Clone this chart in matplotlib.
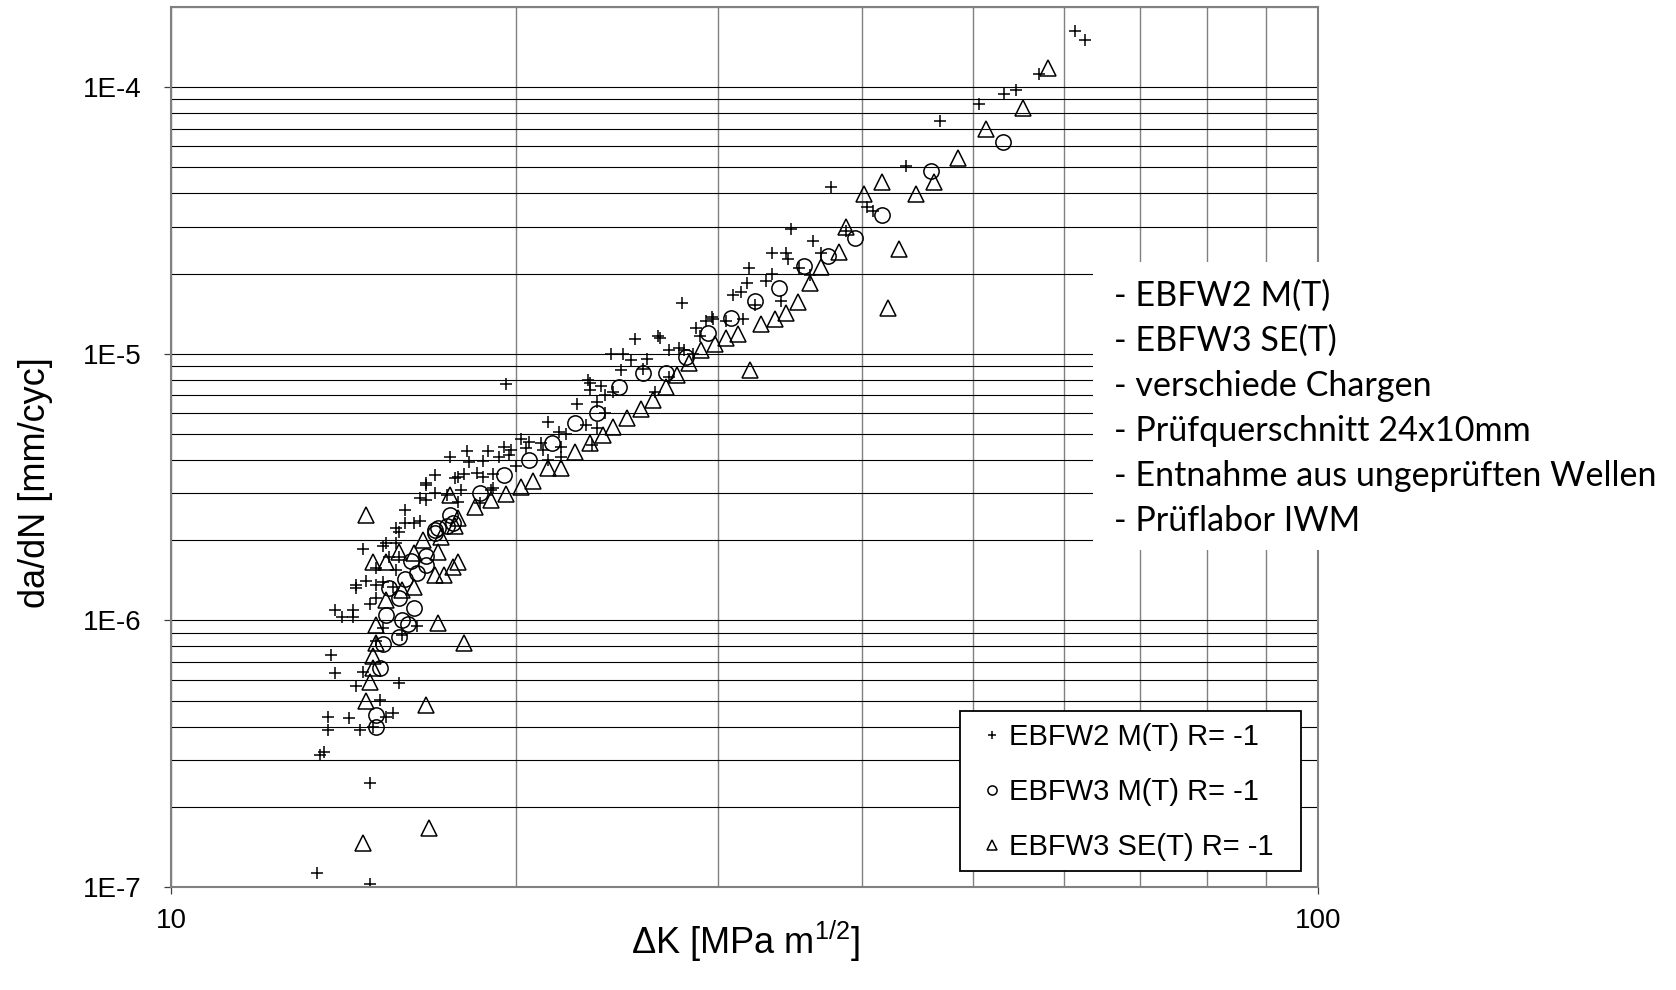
import matplotlib
matplotlib.use("Agg")
import matplotlib.pyplot as plt
from matplotlib.ticker import FixedLocator, FixedFormatter, LogLocator, NullFormatter
from matplotlib.patches import Rectangle

plt.rcParams['font.family'] = ['Liberation Sans', 'DejaVu Sans']
plt.rcParams['mathtext.fontset'] = 'custom'
plt.rcParams['mathtext.rm'] = 'Liberation Sans'

# EBFW2 M(T) R=-1  (plus)
dk_m2 = [61.4, 62.7, 57.1, 53.2, 54.5, 50.6, 46.8, 43.7, 40.4, 40.9, 38.8, 37.6, 34.7,
         36.3, 33.4, 34.4, 34.5, 36.9, 35.3, 36.1, 31.9, 33.4, 31.8, 33.0, 34.0, 31.4,
         30.9, 32.3, 27.9, 29.6, 29.7, 29.3, 31.5, 30.5, 28.7, 28.9, 26.6, 26.7, 25.4,
         27.2, 27.7, 28.0, 28.5, 24.2, 24.8, 25.2, 26.0, 25.8, 24.7, 27.2, 26.4, 19.6,
         23.1, 23.2, 23.7, 23.2, 23.9, 24.3, 22.6, 23.5, 23.9, 23.5, 21.3, 23.0, 21.8,
         22.1, 23.3, 21.9, 21.9, 21.3, 20.2, 20.5, 21.0, 20.4, 19.8, 19.5, 18.9, 19.3,
         19.7, 20.0, 21.1, 19.1, 18.7, 18.7, 19.1, 19.0, 18.6, 18.1, 17.5, 18.2, 18.5,
         18.0, 17.8, 17.7, 17.0, 16.7, 16.7, 16.5, 16.7, 17.0, 17.4, 17.9, 17.8, 16.0,
         15.7, 15.8, 16.0, 16.3, 16.5, 15.4, 15.7, 15.3, 14.7, 15.5, 15.8, 15.1, 15.7,
         15.6, 14.8, 14.5, 14.5, 15.1, 15.3, 14.9, 15.1, 13.9, 14.4, 14.1, 14.4, 16.4,
         15.3, 15.9, 15.1, 13.8, 13.9, 14.7, 14.5, 15.8, 15.2, 15.4, 15.6, 13.7, 14.3,
         13.7, 14.6, 15.0, 13.5, 13.6, 14.9, 13.4, 14.9]
dadn_m2 = [1.63e-4, 1.50e-4, 1.12e-4, 9.46e-5, 9.8e-5, 8.68e-5, 7.5e-5, 5.08e-5, 3.54e-5,
           3.42e-5, 2.90e-5, 4.24e-5, 2.93e-5, 2.64e-5, 2.38e-5, 2.38e-5, 2.26e-5, 2.38e-5,
           2.09e-5, 1.97e-5, 2.09e-5, 2.00e-5, 1.85e-5, 1.87e-5, 1.58e-5, 1.71e-5, 1.66e-5,
           1.52e-5, 1.55e-5, 1.37e-5, 1.35e-5, 1.33e-5, 1.35e-5, 1.33e-5, 1.25e-5, 1.17e-5,
           1.17e-5, 1.15e-5, 1.14e-5, 1.03e-5, 1.05e-5, 1.03e-5, 1.00e-5, 1.00e-5, 1.00e-5,
           9.45e-6, 9.6e-6, 8.8e-6, 8.67e-6, 8.2e-6, 7.2e-6, 7.7e-6, 7.95e-6, 7.8e-6,
           7.55e-6, 7.3e-6, 6.98e-6, 7.2e-6, 6.5e-6, 6.6e-6, 5.98e-6, 5.25e-6, 5.53e-6,
           5.39e-6, 5.07e-6, 5.0e-6, 4.55e-6, 4.46e-6, 4.09e-6, 3.98e-6, 4.78e-6, 4.66e-6,
           4.62e-6, 4.42e-6, 4.35e-6, 4.46e-6, 4.31e-6, 4.09e-6, 4.16e-6, 3.78e-6, 4.35e-6,
           3.53e-6, 3.44e-6, 3.95e-6, 3.13e-6, 3.08e-6, 2.75e-6, 4.31e-6, 4.09e-6, 3.92e-6,
           3.56e-6, 3.53e-6, 3.46e-6, 3.42e-6, 3.50e-6, 3.27e-6, 3.21e-6, 2.87e-6, 2.82e-6,
           3.00e-6, 2.95e-6, 3.08e-6, 2.77e-6, 2.59e-6, 2.22e-6, 2.14e-6, 2.31e-6, 2.31e-6,
           2.37e-6, 1.96e-6, 1.96e-6, 1.90e-6, 1.85e-6, 1.73e-6, 1.73e-6, 1.57e-6, 1.54e-6,
           1.33e-6, 1.41e-6, 1.36e-6, 1.32e-6, 1.36e-6, 1.39e-6, 1.15e-6, 1.21e-6, 1.09e-6,
           1.09e-6, 1.03e-6, 1.03e-6, 9.5e-7, 9.4e-7, 8.8e-7, 8.36e-7, 7.4e-7, 6.34e-7,
           6.4e-7, 5.67e-7, 5.8e-7, 5.02e-7, 4.34e-7, 4.48e-7, 4.34e-7, 4.3e-7, 3.87e-7,
           3.87e-7, 3.98e-7, 3.13e-7, 3.2e-7, 2.45e-7, 1.13e-7, 1.03e-7]

# EBFW3 M(T) R=-1  (circle)
dk_m3 = [53.1, 46.0, 41.7, 39.5, 37.4, 35.6, 33.9, 32.3, 30.8, 29.4, 28.1, 25.8, 27.0,
         24.6, 23.5, 22.5, 21.5, 20.5, 19.5, 18.6, 17.5, 17.4, 17.6, 17.1, 17.0, 17.0,
         16.7, 16.2, 16.7, 16.4, 16.0, 15.8, 15.5, 16.3, 15.4, 15.9, 16.1, 15.8, 15.3,
         15.2, 15.1, 15.1]
dadn_m3 = [6.25e-5, 4.87e-5, 3.33e-5, 2.73e-5, 2.32e-5, 2.14e-5, 1.76e-5, 1.58e-5, 1.36e-5,
           1.20e-5, 9.7e-6, 8.5e-6, 8.5e-6, 7.5e-6, 5.98e-6, 5.48e-6, 4.62e-6, 3.98e-6,
           3.50e-6, 3.00e-6, 2.48e-6, 2.27e-6, 2.31e-6, 2.22e-6, 2.18e-6, 2.12e-6, 1.75e-6,
           1.67e-6, 1.61e-6, 1.50e-6, 1.43e-6, 1.21e-6, 1.32e-6, 1.11e-6, 1.05e-6, 1.00e-6,
           9.7e-7, 8.65e-7, 8.15e-7, 6.62e-7, 4.41e-7, 3.98e-7]

# EBFW3 SE(T) R=-1  (triangle)
dk_se3 = [58.2, 55.3, 51.4, 48.5, 46.3, 41.7, 40.2, 44.6, 38.8, 38.2, 43.1, 42.2, 36.9,
          36.1, 35.2, 34.4, 33.6, 32.7, 31.2, 30.5, 29.8, 29.0, 28.3, 27.6, 27.0, 26.3,
          25.7, 32.0, 25.0, 24.3, 23.8, 23.2, 22.5, 21.3, 21.9, 20.7, 20.2, 19.6, 19.0,
          17.5, 18.4, 17.8, 17.7, 17.2, 16.6, 15.8, 16.3, 17.1, 15.0, 15.4, 17.8, 17.0,
          17.3, 17.6, 16.3, 15.9, 15.4, 17.1, 15.1, 18.0, 15.1, 15.0, 15.0, 14.9, 14.8,
          16.7, 16.8, 14.7, 14.8]
dadn_se3 = [1.18e-4, 8.38e-5, 7.0e-5, 5.45e-5, 4.43e-5, 4.43e-5, 3.96e-5, 3.96e-5, 2.98e-5,
            2.42e-5, 2.48e-5, 1.49e-5, 2.11e-5, 1.85e-5, 1.56e-5, 1.42e-5, 1.35e-5, 1.29e-5,
            1.19e-5, 1.15e-5, 1.09e-5, 1.03e-5, 9.2e-6, 8.3e-6, 7.5e-6, 6.7e-6, 6.2e-6,
            8.7e-6, 5.73e-6, 5.3e-6, 4.95e-6, 4.62e-6, 4.27e-6, 3.72e-6, 3.72e-6, 3.32e-6,
            3.16e-6, 2.97e-6, 2.82e-6, 2.95e-6, 2.66e-6, 2.42e-6, 2.27e-6, 2.05e-6, 2.00e-6,
            1.80e-6, 1.79e-6, 1.80e-6, 1.65e-6, 1.65e-6, 1.65e-6, 1.48e-6, 1.48e-6, 1.58e-6,
            1.33e-6, 1.30e-6, 1.19e-6, 9.8e-7, 9.6e-7, 8.2e-7, 8.2e-7, 7.35e-7, 6.62e-7,
            5.87e-7, 4.98e-7, 4.81e-7, 1.66e-7, 1.46e-7, 2.48e-6]

series_labels = ["EBFW2 M(T) R= -1", "EBFW3 M(T) R= -1", "EBFW3 SE(T) R= -1"]
note_lines = ["- EBFW2 M(T)", "- EBFW3 SE(T)", "- verschiede Chargen",
              "- Prüfquerschnitt 24x10mm", "- Entnahme aus ungeprüften Wellen",
              "- Prüflabor IWM"]
y_ticks = [1e-7, 1e-6, 1e-5, 1e-4]
y_ticklabels = ["1E-7", "1E-6", "1E-5", "1E-4"]
x_ticks = [10, 100]
x_ticklabels = ["10", "100"]

W, H = 1676, 990
fig = plt.figure(figsize=(W / 100, H / 100), dpi=100)
ax = fig.add_axes([171 / W, 103 / H, 1147 / W, 880 / H])
ax.set_xscale('log')
ax.set_yscale('log')
ax.set_xlim(10, 100)
ax.set_ylim(1e-7, 2e-4)

# grid: horizontal black, vertical grey
ax.set_axisbelow(True)
ax.yaxis.set_minor_locator(LogLocator(base=10, subs=range(2, 10)))
ax.xaxis.set_minor_locator(LogLocator(base=10, subs=range(2, 10)))
ax.yaxis.set_minor_formatter(NullFormatter())
ax.xaxis.set_minor_formatter(NullFormatter())
ax.grid(True, which='both', axis='y', color='black', lw=0.8)
ax.grid(True, which='both', axis='x', color='#808080', lw=1.0)

ax.yaxis.set_major_locator(FixedLocator(y_ticks))
ax.yaxis.set_major_formatter(FixedFormatter(y_ticklabels))
ax.xaxis.set_major_locator(FixedLocator(x_ticks))
ax.xaxis.set_major_formatter(FixedFormatter(x_ticklabels))
ax.tick_params(which='minor', length=0)
ax.tick_params(which='major', length=5, width=0.9, color='#404040', labelsize=20)
ax.tick_params(axis='y', pad=16)
ax.tick_params(axis='x', pad=10)

for sp in ax.spines.values():
    sp.set_color('#808080')
    sp.set_linewidth(1.5)

ms_kw = dict(linestyle='none', color='black', mew=1.1)
ax.plot(dk_m2, dadn_m2, marker='+', ms=9, label=series_labels[0], **ms_kw)
ax.plot(dk_m3, dadn_m3, marker='o', ms=11, mfc='none', label=series_labels[1], **ms_kw)
ax.plot(dk_se3, dadn_se3, marker='^', ms=11, mfc='none', label=series_labels[2], **ms_kw)

# white box behind the notes hides the grid
ax.add_patch(Rectangle(((1093 - 171) / 1147, (887 - 550) / 880), 0.25, 288 / 880,
                       transform=ax.transAxes, facecolor='white', edgecolor='none',
                       zorder=3, clip_on=False))
for i, line in enumerate(note_lines):
    fig.text(1114 / W, 1 - (296 + 45 * i) / H, line, family=['Lato', 'DejaVu Sans'],
             fontsize=24.6, ha='left', va='center', zorder=4)

# legend frame drawn separately so the padding can differ per side
ax.add_patch(Rectangle((960 / W, 1 - 871 / H), 341 / W, 160 / H,
                       transform=fig.transFigure, facecolor='white',
                       edgecolor='black', lw=1.3, zorder=5, clip_on=False))
leg = ax.legend(loc='center left', bbox_to_anchor=(977 / W, 1 - 792 / H),
                bbox_transform=fig.transFigure, fontsize=21, markerscale=0.6,
                frameon=False, borderpad=0, labelspacing=0.92, handlelength=1.0,
                handletextpad=0.09, borderaxespad=0)
leg.set_zorder(6)

fig.text(36 / W, 1 - 483 / H, "da/dN [mm/cyc]", rotation=90, fontsize=26,
         ha='center', va='center')
fig.text(745 / W, 1 - 941 / H, r"$\Delta$K [MPa m$^{\mathrm{1/2}}$]", fontsize=26,
         ha='center', va='center')

fig.savefig("out.png", dpi=100, facecolor='white')
